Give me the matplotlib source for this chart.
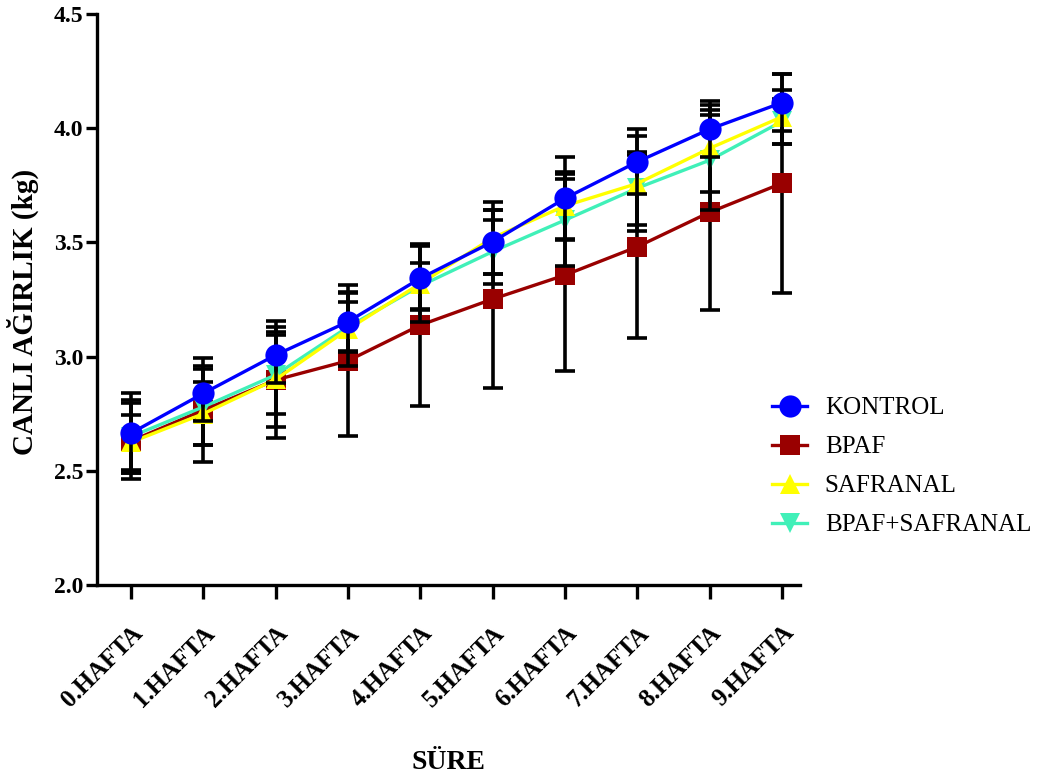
import numpy as np
import matplotlib
matplotlib.use('Agg')
import matplotlib.pyplot as plt
import matplotlib.transforms as mtransforms

plt.rc('font', family='serif', serif=['Liberation Serif', 'DejaVu Serif'])

weeks = ['0.HAFTA', '1.HAFTA', '2.HAFTA', '3.HAFTA', '4.HAFTA',
         '5.HAFTA', '6.HAFTA', '7.HAFTA', '8.HAFTA', '9.HAFTA']

kontrol = [2.665, 2.839, 3.007, 3.153, 3.343, 3.503, 3.693, 3.853, 3.996, 4.112]
kontrol_sd = [0.175, 0.12, 0.124, 0.13, 0.14, 0.14, 0.179, 0.143, 0.124, 0.125]

bpaf = [2.63, 2.766, 2.898, 2.982, 3.138, 3.252, 3.357, 3.481, 3.632, 3.759]
bpaf_sd = [0.166, 0.226, 0.256, 0.33, 0.353, 0.388, 0.419, 0.40, 0.428, 0.479]

safranal = [2.625, 2.75, 2.90, 3.12, 3.32, 3.52, 3.66, 3.758, 3.912, 4.05]
safranal_sd = [0.12, 0.137, 0.206, 0.16, 0.17, 0.158, 0.15, 0.207, 0.19, 0.117]

bpaf_saf = [2.65, 2.78, 2.92, 3.13, 3.31, 3.46, 3.598, 3.738, 3.86, 4.03]
bpaf_saf_sd = [0.16, 0.166, 0.173, 0.11, 0.10, 0.14, 0.20, 0.16, 0.22, 0.10]

x = np.arange(len(weeks))

fig = plt.figure(figsize=(10.4, 7.8), dpi=100)
ax = fig.add_axes([0.0933, 0.25, 0.676, 0.732])

# drawing order: bottom -> top
series = [
    (bpaf, bpaf_sd, 'BPAF', '#990000', 's', 15),
    (bpaf_saf, bpaf_saf_sd, 'BPAF+SAFRANAL', '#40F0B8', 'v', 15),
    (safranal, safranal_sd, 'SAFRANAL', '#FFFF00', '^', 15),
    (kontrol, kontrol_sd, 'KONTROL', '#0000FF', 'o', 16),
]

handles = {}
for i, (vals, sd, name, col, mk, ms) in enumerate(series):
    z = 2 + i
    ax.errorbar(x, vals, yerr=sd, fmt='none', ecolor='black', elinewidth=2.6,
                capsize=7, capthick=2.6, zorder=z)
    ln, = ax.plot(x, vals, color=col, lw=2.4, marker=mk, markersize=ms,
                  markeredgewidth=0, label=name, zorder=z + 0.5)
    handles[name] = ln

ax.set_xlim(-0.47, 9.25)
ax.set_ylim(2.0, 4.5)
ax.set_yticks([2.0, 2.5, 3.0, 3.5, 4.0, 4.5])
ax.set_xticks(x)
ax.set_xticklabels(weeks, rotation=45, ha='right', rotation_mode='anchor',
                   fontsize=18, fontweight='bold')
shift = mtransforms.ScaledTranslation(0.08, 0, fig.dpi_scale_trans)
for t in ax.get_xticklabels():
    t.set_transform(t.get_transform() + shift)
for t in ax.get_yticklabels():
    t.set_fontsize(17)
    t.set_fontweight('bold')

ax.spines['right'].set_visible(False)
ax.spines['top'].set_visible(False)
ax.spines['left'].set_linewidth(2.4)
ax.spines['bottom'].set_linewidth(2.4)
ax.tick_params(axis='both', direction='out', length=8, width=2.4, pad=2)
ax.tick_params(axis='x', length=10, pad=16)

ax.set_ylabel('CANLI AĞIRLIK (kg)', fontsize=21, fontweight='bold')
ax.yaxis.set_label_coords(-0.082, 0.478)
ax.set_xlabel('SÜRE', fontsize=20, fontweight='bold', labelpad=28)

order = ['KONTROL', 'BPAF', 'SAFRANAL', 'BPAF+SAFRANAL']
fig.legend([handles[n] for n in order], order, loc='upper left',
           bbox_to_anchor=(0.721, 0.52), frameon=False, fontsize=18,
           handlelength=1.4, handletextpad=0.7, labelspacing=0.66)

plt.savefig('out.png', dpi=100)
